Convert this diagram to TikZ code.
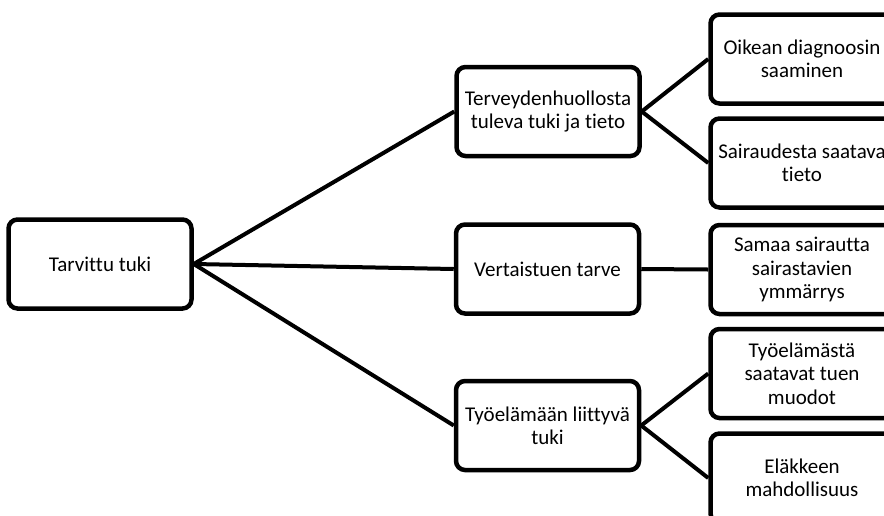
\documentclass[tikz,border=0pt]{standalone}
\usepackage{fontspec}
\setmainfont[Ligatures=NoCommon]{Carlito}
\usetikzlibrary{positioning}

\tikzset{
  kasti/.style={draw, line width=4.5pt, rounded corners=9pt, fill=white,
    minimum width=183pt, minimum height=89pt, inner sep=2pt,
    align=center, font=\fontsize{21}{23.3}\selectfont},
  viiva/.style={line width=4pt}
}

\begin{document}
\begin{tikzpicture}[x=1pt,y=-1pt]
		\useasboundingbox (0,0) rectangle (884,515);
		\clip (0,0) rectangle (884,515);
		
		% Juuri
		\node[kasti] (tuki) at (100,264) {Tarvittu tuki};
		
		% Keskitaso
		\node[kasti] (terv) at (548,111.5) {Terveydenhuollosta\\tuleva tuki ja tieto};
		\node[kasti] (vert) at (547.5,269) {Vertaistuen tarve};
		\node[kasti] (tyo)  at (547.5,425.5) {Työelämään liittyvä\\tuki};
		
		% Oikea taso
		\node[kasti] (diag)   at (802,59)    {Oikean diagnoosin\\saaminen};
		\node[kasti] (tieto)  at (802,163)   {Sairaudesta saatava\\tieto};
		\node[kasti] (ymm)    at (802,269.5) {Samaa sairautta\\sairastavien\\ymmärrys};
		\node[kasti] (muodot) at (802,373.5) {Työelämästä\\saatavat tuen\\muodot};
		\node[kasti] (elake)  at (802,478)   {Eläkkeen\\mahdollisuus};
		
		% Viivat
		\draw[viiva] (tuki.east) -- (terv.west);
		\draw[viiva] (tuki.east) -- (vert.west);
		\draw[viiva] (tuki.east) -- (tyo.west);
		
		\draw[viiva] (terv.east) -- (diag.west);
		\draw[viiva] (terv.east) -- (tieto.west);
		\draw[viiva] (vert.east) -- (ymm.west);
		\draw[viiva] (tyo.east) -- (muodot.west);
		\draw[viiva] (tyo.east) -- (elake.west);
	\end{tikzpicture}
\end{document}
